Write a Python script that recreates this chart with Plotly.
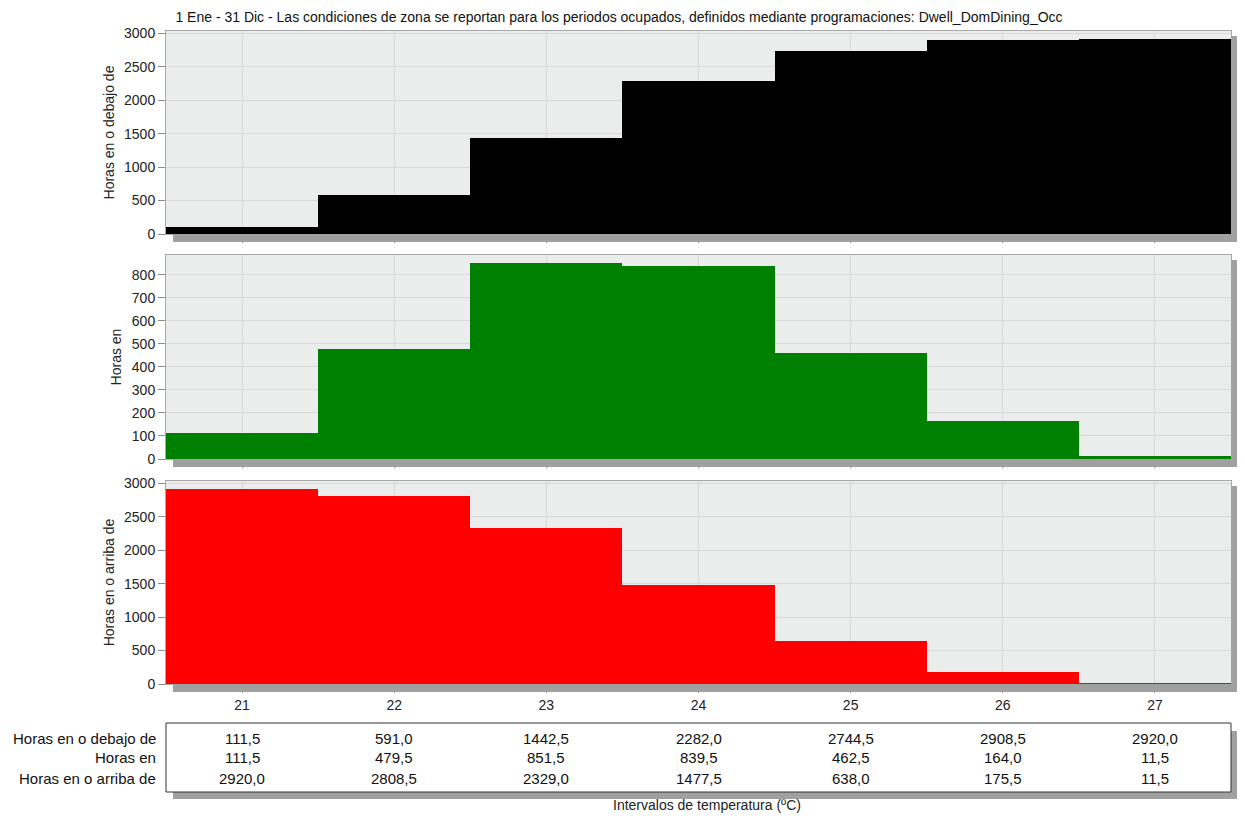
import plotly.graph_objects as go
from plotly.subplots import make_subplots

# temperature bins (ºC)
temps = [21, 22, 23, 24, 25, 26, 27]

# hours at or below / in / at or above each bin
horas_debajo = [111.5, 591.0, 1442.5, 2282.0, 2744.5, 2908.5, 2920.0]
horas_en = [111.5, 479.5, 851.5, 839.5, 462.5, 164.0, 11.5]
horas_arriba = [2920.0, 2808.5, 2329.0, 1477.5, 638.0, 175.5, 11.5]

row_labels = ["Horas en o debajo de", "Horas en", "Horas en o arriba de"]
colors = ["#000000", "#008000", "#ff0000"]

titulo = ("1 Ene - 31 Dic - Las condiciones de zona se reportan para los periodos ocupados, "
          "definidos mediante programaciones: Dwell_DomDining_Occ")

FONT = "Liberation Sans, Arial, sans-serif"

# the page body has an 8px margin, so the figure sits at (8, 8) on the page;
# positions below are page pixels and get shifted by OFF
OFF = 8
W, H = 1245 - 2 * OFF, 816 - OFF
PAGE_L, PAGE_R = 166, 1231   # plot area left/right on the page
SH = 6                        # shadow width
L, R, T, B = PAGE_L - OFF, PAGE_R - OFF, 31 - OFF, 684 - OFF


def py(y):
    # page pixel y -> paper y
    return (B - (y - OFF)) / (B - T)


def px(x):
    return ((x - OFF) - L) / (R - L)


fig = make_subplots(rows=3, cols=1, shared_xaxes=True, vertical_spacing=0.03)

series = [horas_debajo, horas_en, horas_arriba]
for i, (vals, c) in enumerate(zip(series, colors), start=1):
    fig.add_trace(go.Bar(x=temps, y=vals, width=1, marker_color=c,
                         marker_line_width=0, showlegend=False), row=i, col=1)

# panel positions
domains = [(py(234), 1.0), (py(459), py(255)), (0.0, py(481))]
yranges = [[0, 3037], [0, 886], [0, 3037]]
ydticks = [500, 100, 500]

axis_common = dict(showline=True, linecolor="#a8a8a8", linewidth=1, mirror=True,
                   gridcolor="#d9d9d9", ticks="outside", tickcolor="#8c8c8c",
                   tickfont=dict(size=14, color="#222"), zeroline=False)

for i in range(3):
    fig.update_yaxes(row=i + 1, col=1, domain=domains[i], range=yranges[i],
                     dtick=ydticks[i], ticklen=7,
                     title=dict(text=row_labels[i], font=dict(size=14, color="#222"), standoff=6),
                     **axis_common)
    fig.update_xaxes(row=i + 1, col=1, range=[20.5, 27.5], tickvals=temps,
                     ticklen=8, showticklabels=(i == 2), **axis_common)

# drop shadows (bottom and right strips) of the three panels
shadow = "#a0a0a0"
shapes = []
for top, bot in [(31, 234), (255, 459), (481, 684)]:
    shapes.append(dict(type="rect", xref="paper", yref="paper", x0=px(PAGE_L + 7),
                       x1=px(PAGE_R + SH), y0=py(bot + 8), y1=py(bot),
                       fillcolor=shadow, line_width=0))
    shapes.append(dict(type="rect", xref="paper", yref="paper", x0=px(PAGE_R + 0.5),
                       x1=px(PAGE_R + SH), y0=py(bot), y1=py(top + 5),
                       fillcolor=shadow, line_width=0))

# data table under the chart
tb_top, tb_bot, tb_right = 723, 792, PAGE_R
shapes.append(dict(type="rect", xref="paper", yref="paper", x0=px(PAGE_L + 7),
                   x1=px(tb_right + SH), y0=py(tb_bot + 7), y1=py(tb_bot),
                   fillcolor=shadow, line_width=0))
shapes.append(dict(type="rect", xref="paper", yref="paper", x0=px(tb_right),
                   x1=px(tb_right + SH), y0=py(tb_bot), y1=py(tb_top + 8),
                   fillcolor=shadow, line_width=0))
shapes.append(dict(type="rect", xref="paper", yref="paper", x0=0, x1=px(tb_right),
                   y0=py(tb_bot), y1=py(tb_top), fillcolor="white",
                   line=dict(color="#333", width=1)))

annotations = []
row_y = [738, 758, 778]
for lab, vals, yy in zip(row_labels, series, row_y):
    annotations.append(dict(text=lab, xref="paper", yref="paper", x=px(158), y=py(yy),
                            xanchor="right", yanchor="middle", showarrow=False,
                            font=dict(size=15, color="#111", family=FONT)))
    for t, v in zip(temps, vals):
        annotations.append(dict(text=f"{v:.1f}".replace(".", ","), xref="x3", yref="paper",
                                x=t, y=py(yy), xanchor="center", yanchor="middle",
                                showarrow=False, font=dict(size=15, color="#111", family=FONT)))

annotations.append(dict(text="Intervalos de temperatura (ºC)", xref="paper", yref="paper",
                        x=px(707), y=py(805), xanchor="center", yanchor="middle",
                        showarrow=False, font=dict(size=14, color="#222", family=FONT)))

fig.update_layout(
    width=W, height=H,
    margin=dict(l=L, r=W - R, t=T, b=H - B),
    paper_bgcolor="white", plot_bgcolor="#ebecec",
    bargap=0,
    font=dict(family=FONT, size=14, color="#222"),
    title=dict(text=titulo, x=(619 - OFF) / W, y=1 - (17 - OFF) / H,
               xanchor="center", yanchor="middle",
               font=dict(size=14, color="#111")),
    shapes=shapes, annotations=annotations,
)

fig.write_html("out.html")
